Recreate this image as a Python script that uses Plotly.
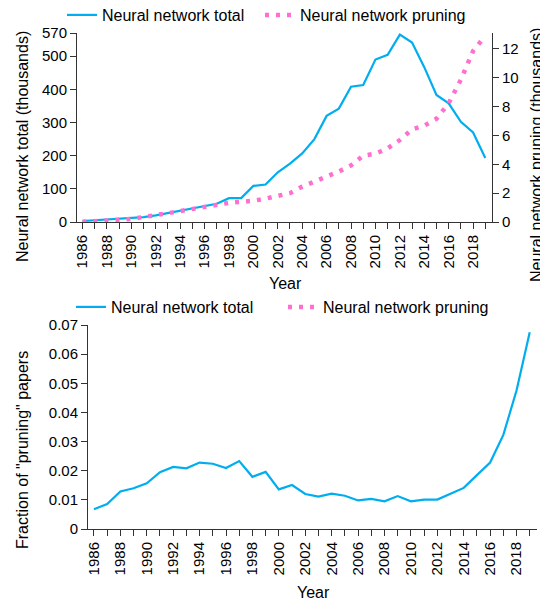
import plotly.graph_objects as go

years = list(range(1986, 2020))
nn_total = [3, 5, 8, 9, 11, 15, 20, 27, 33, 40, 47, 55, 72, 72, 109, 113, 150, 176, 207, 250,
            320, 342, 408, 413, 490, 504, 565, 541, 467, 383, 358, 302, 270, 193]
nn_pruning = [0.02, 0.04, 0.10, 0.15, 0.21, 0.32, 0.45, 0.61, 0.76, 0.92, 1.04, 1.21, 1.33, 1.40,
              1.47, 1.62, 1.78, 2.00, 2.45, 2.80, 3.13, 3.50, 3.92, 4.60, 4.73, 5.10, 5.68, 6.42,
              6.68, 7.15, 8.23, 9.87, 11.85, 12.9]
fraction = [0.0068, 0.0086, 0.0129, 0.0140, 0.0157, 0.0195, 0.0213, 0.0208, 0.0228, 0.0224,
            0.0209, 0.0233, 0.0179, 0.0196, 0.0136, 0.0151, 0.0120, 0.0111, 0.0121, 0.0114,
            0.0098, 0.0103, 0.0095, 0.0113, 0.0095, 0.0101, 0.0101, 0.0121, 0.0141, 0.0185,
            0.0228, 0.0323, 0.0475, 0.0675]

left_ticks = [0, 100, 200, 300, 400, 500, 570]
right_ticks = [0, 2, 4, 6, 8, 10, 12]
frac_ticks = [0, 0.01, 0.02, 0.03, 0.04, 0.05, 0.06, 0.07]
frac_labels = ["0", "0.01", "0.02", "0.03", "0.04", "0.05", "0.06", "0.07"]
x_ticks = list(range(1986, 2020))
x_labels = [str(y) if y % 2 == 0 else "" for y in x_ticks]

# page has an 8px body margin: figure is drawn at (8, 8) in the window
OFF = 8
W, H = 548 - OFF, 603 - OFF
BLUE = "#00AEEF"
PINK = "#FF6FCF"
AX = "#333333"
FONT = "Liberation Sans, Arial, sans-serif"


def px(x):
    return (x - OFF) / W


def py(y):
    return 1 - (y - OFF) / H


fig = go.Figure()
fig.add_trace(go.Scatter(x=years, y=nn_total, mode="lines", name="Neural network total",
                         line=dict(color=BLUE, width=2.2), xaxis="x", yaxis="y", legend="legend"))
fig.add_trace(go.Scatter(x=years, y=nn_pruning, mode="lines", name="Neural network pruning",
                         line=dict(color=PINK, width=4.5, dash="4px,7px"), xaxis="x", yaxis="y2",
                         legend="legend2"))
fig.add_trace(go.Scatter(x=years, y=fraction, mode="lines", name="Neural network total",
                         line=dict(color=BLUE, width=2.2), xaxis="x2", yaxis="y3", legend="legend3"))
fig.add_trace(go.Scatter(x=[None], y=[None], mode="lines", name="Neural network pruning",
                         line=dict(color=PINK, width=4.5, dash="4px,7px"), xaxis="x2", yaxis="y3",
                         legend="legend4"))

common_axis = dict(showgrid=False, zeroline=False, showline=True, linecolor=AX, linewidth=1,
                   ticks="outside", ticklen=6, tickcolor=AX, tickwidth=1, automargin=False,
                   tickfont=dict(family=FONT, size=15, color="black"))


def leg(x, y):
    return dict(orientation="h", x=px(x), y=py(y), xanchor="left", yanchor="top",
                font=dict(family=FONT, size=16), bgcolor="rgba(0,0,0,0)", itemwidth=30)


xr = [1985.55, 2019.55]
fig.update_layout(
    width=W, height=H, margin=dict(l=0, r=0, t=0, b=0, autoexpand=False),
    paper_bgcolor="white", plot_bgcolor="white",
    font=dict(family=FONT, size=16, color="black"),
    xaxis=dict(domain=[px(77), px(492)], range=xr, tickmode="array", tickvals=x_ticks,
               ticktext=x_labels, tickangle=-90, anchor="y", **common_axis),
    yaxis=dict(domain=[py(222), py(33)], range=[0, 570], tickmode="array", tickvals=left_ticks,
               anchor="x", **common_axis),
    yaxis2=dict(domain=[py(222), py(33)], range=[0, 13.1], tickmode="array", tickvals=right_ticks,
                overlaying="y", side="right", anchor="x", **common_axis),
    xaxis2=dict(domain=[px(88), px(537)], range=xr, tickmode="array", tickvals=x_ticks,
                ticktext=x_labels, tickangle=-90, anchor="y3", **common_axis),
    yaxis3=dict(domain=[py(529), py(325)], range=[0, 0.07], tickmode="array", tickvals=frac_ticks,
                ticktext=frac_labels, anchor="x2", **common_axis),
    legend=leg(62, -2),
    legend2=leg(260, -2),
    legend3=leg(71, 290),
    legend4=leg(283, 290),
    showlegend=True,
)

anns = [
    dict(text="Neural network total (thousands)", x=px(22), y=py(147), textangle=-90),
    dict(text="Neural network pruning (thousands)", x=px(536), y=py(155), textangle=-90),
    dict(text="Year", x=px(285), y=py(283), textangle=0),
    dict(text='Fraction of "pruning" papers', x=px(22), y=py(450), textangle=-90),
    dict(text="Year", x=px(313), y=py(592), textangle=0),
]
for a in anns:
    fig.add_annotation(xref="paper", yref="paper", showarrow=False, xanchor="center",
                       yanchor="middle", font=dict(family=FONT, size=16, color="black"), **a)

fig.write_html("out.html")
